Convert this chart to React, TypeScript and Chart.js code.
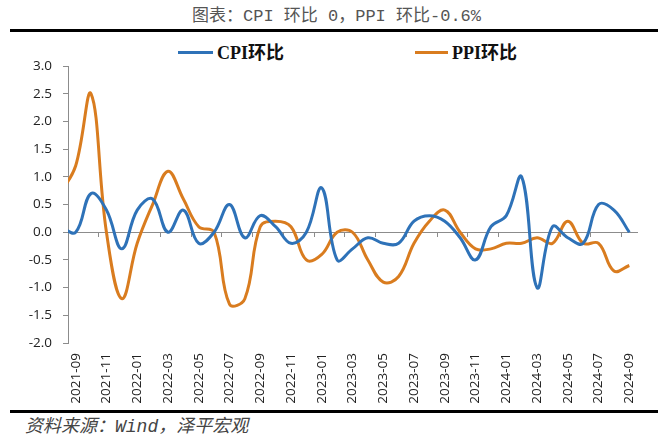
import { useEffect, useRef } from 'react';
import { Chart, registerables } from 'chart.js';

Chart.register(...registerables);

// monthly labels; 2021-08 sits just left of the plot edge (clipped), as in the source chart
const months = [
  '2021-08', '2021-09', '2021-10', '2021-11', '2021-12',
  '2022-01', '2022-02', '2022-03', '2022-04', '2022-05', '2022-06',
  '2022-07', '2022-08', '2022-09', '2022-10', '2022-11', '2022-12',
  '2023-01', '2023-02', '2023-03', '2023-04', '2023-05', '2023-06',
  '2023-07', '2023-08', '2023-09', '2023-10', '2023-11', '2023-12',
  '2024-01', '2024-02', '2024-03', '2024-04', '2024-05', '2024-06',
  '2024-07', '2024-08', '2024-09',
];

const cpiMoM = [
  0.1, 0.0, 0.7, 0.4, -0.3,
  0.4, 0.6, 0.0, 0.4, -0.2, 0.0, 0.5, -0.1, 0.3, 0.1, -0.2, 0.0,
  0.8, -0.5, -0.3, -0.1, -0.2, -0.2, 0.2, 0.3, 0.2, -0.1, -0.5, 0.1,
  0.3, 1.0, -1.0, 0.1, -0.1, -0.2, 0.5, 0.4, 0.0,
];

const ppiMoM = [
  0.7, 1.2, 2.5, 0.0, -1.2,
  -0.2, 0.5, 1.1, 0.6, 0.1, 0.0, -1.3, -1.2, 0.1, 0.2, 0.1, -0.5,
  -0.4, 0.0, 0.0, -0.5, -0.9, -0.8, -0.2, 0.2, 0.4, 0.0, -0.3, -0.3,
  -0.2, -0.2, -0.1, -0.2, 0.2, -0.2, -0.2, -0.7, -0.6,
];

const firstShown = '2021-09';
const cpiColor = '#2E72B8';
const ppiColor = '#D97C1F';
const axisGray = '#8c8c8c';
const tickFont = '"Open Sans", "Noto Sans", sans-serif';

export default function App() {
  const canvasRef = useRef<HTMLCanvasElement>(null);

  useEffect(() => {
    if (!canvasRef.current) return;

    const chart = new Chart(canvasRef.current, {
      type: 'line',
      data: {
        labels: months,
        datasets: [
          {
            label: 'CPI环比',
            data: cpiMoM,
            borderColor: cpiColor,
            borderWidth: 3,
            pointRadius: 0,
            tension: 0.4,
            clip: 0,
          },
          {
            label: 'PPI环比',
            data: ppiMoM,
            borderColor: ppiColor,
            borderWidth: 3,
            pointRadius: 0,
            tension: 0.4,
            clip: 0,
          },
        ],
      },
      options: {
        responsive: true,
        maintainAspectRatio: false,
        animation: false,
        layout: { padding: { top: 10, right: 23, left: 0, bottom: 0 } },
        plugins: {
          legend: { display: false },
          tooltip: { enabled: false },
        },
        scales: {
          x: {
            type: 'category',
            min: firstShown,
            offset: true,
            grid: { display: false, drawTicks: false },
            border: { display: false },
            ticks: {
              autoSkip: false,
              minRotation: 90,
              maxRotation: 90,
              padding: 10,
              color: '#222',
              font: { family: tickFont, size: 13.5 },
              callback: function (value, index) {
                return index % 2 === 0 ? this.getLabelForValue(value as number) : '';
              },
            },
            afterFit: (scale) => {
              scale.height = 67;
            },
          },
          x2: {
            type: 'category',
            min: firstShown,
            position: { y: 0 },
            offset: true,
            ticks: { display: false },
            grid: {
              offset: true,
              drawOnChartArea: false,
              drawTicks: true,
              tickLength: 4,
              color: (ctx: any) =>
                ctx.type === 'tick' && ctx.index > 0 && ctx.index % 2 === 0 ? axisGray : 'rgba(0,0,0,0)',
            },
            border: { display: true, color: axisGray, width: 1 },
          },
          y: {
            min: -2,
            max: 3,
            grid: { drawOnChartArea: false, drawTicks: true, tickLength: 5, color: axisGray },
            border: { display: true, color: axisGray, width: 1 },
            ticks: {
              stepSize: 0.5,
              padding: 11,
              color: '#222',
              font: { family: tickFont, size: 13.5 },
              callback: (v) => Number(v).toFixed(1),
            },
            afterFit: (scale) => {
              scale.width = 68;
            },
          },
        },
      },
    });

    return () => {
      chart.destroy();
    };
  }, []);

  const legendText: React.CSSProperties = {
    position: 'absolute',
    top: 43,
    height: 20,
    lineHeight: '20px',
    fontFamily: '"Liberation Serif", "Noto Sans CJK SC", serif',
    fontWeight: 'bold',
    fontSize: 18,
    color: '#111',
    whiteSpace: 'nowrap',
  };

  return (
    <div style={{ position: 'fixed', left: 0, top: 0, width: 660, height: 442, background: '#fff', overflow: 'hidden' }}>
      <div style={{
        position: 'absolute', left: 192, top: 6, lineHeight: '21px', whiteSpace: 'nowrap',
        fontFamily: '"Liberation Mono", "Noto Sans CJK SC", monospace', fontSize: 17, color: '#555',
      }}>
        图表：CPI 环比 0，PPI 环比-0.6%
      </div>
      <div style={{ position: 'absolute', left: 10, top: 29, width: 648, height: 3, background: '#000' }} />

      <div style={{ position: 'absolute', left: 178, top: 51, width: 35, height: 3, background: cpiColor }} />
      <div style={{ ...legendText, left: 217 }}>CPI环比</div>
      <div style={{ position: 'absolute', left: 415, top: 51, width: 33, height: 3, background: ppiColor }} />
      <div style={{ ...legendText, left: 452 }}>PPI环比</div>

      <div style={{ position: 'absolute', left: 0, top: 47, width: 660, height: 363 }}>
        <canvas ref={canvasRef} />
      </div>

      <div style={{ position: 'absolute', left: 10, top: 410, width: 648, height: 3, background: '#000' }} />
      <div style={{
        position: 'absolute', left: 25, top: 416, lineHeight: '22px', whiteSpace: 'nowrap',
        fontFamily: '"Liberation Mono", "Noto Sans CJK SC", monospace', fontSize: 18,
        fontStyle: 'italic', color: '#444',
      }}>
        资料来源：Wind，泽平宏观
      </div>
    </div>
  );
}
